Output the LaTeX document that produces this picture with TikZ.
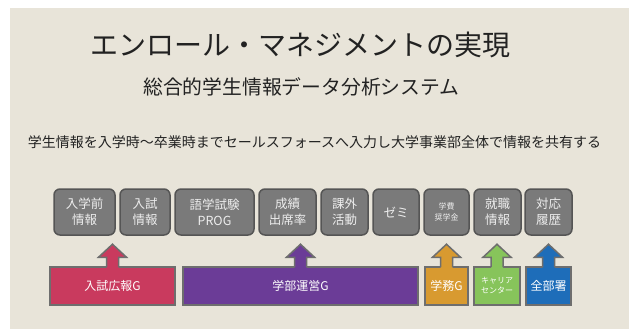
\documentclass[tikz,border=0pt]{standalone}
\usepackage{fontspec}
\setmainfont{Noto Sans CJK JP}
\definecolor{bg}{HTML}{E8E4D9}
\definecolor{boxfill}{HTML}{7A7A7A}
\definecolor{boxline}{HTML}{555555}
\definecolor{boxtext}{HTML}{EDEDED}
\definecolor{barline}{HTML}{6E6E6E}
\definecolor{cred}{HTML}{C93A5E}
\definecolor{cpurple}{HTML}{6B3C97}
\definecolor{corange}{HTML}{D89A30}
\definecolor{cgreen}{HTML}{87C45B}
\definecolor{cblue}{HTML}{1E6DB9}
\definecolor{ink}{HTML}{222222}
\tikzset{
  infobox/.style={draw=boxline, line width=1.5pt, fill=boxfill, rounded corners=6pt,
    minimum height=46pt, inner sep=0pt, align=center, text=boxtext,
    font=\fontsize{12.5}{16}\selectfont},
  smallbox/.style={infobox, font=\fontsize{8}{11}\selectfont},
  bar/.style={draw=barline, line width=1.5pt, minimum height=38pt, inner sep=0pt,
    align=center, text=white, font=\fontsize{12}{14}\selectfont},
  smallbar/.style={bar, font=\fontsize{8}{10}\selectfont},
  uparrow/.style={draw=barline, line width=1.5pt, line join=miter},
}
\newcommand{\UpArrow}[2]{%
  \fill[#2] (#1.north) ++(-6,2) -- ++(0,-11) -- ++(-8,0) -- ++(14,-13) -- ++(14,13) -- ++(-8,0) -- ++(0,11) -- cycle;
  \draw[uparrow] (#1.north) ++(-6,0.75) -- ++(0,-9.75) -- ++(-8,0) -- ++(14,-13) -- ++(14,13) -- ++(-8,0) -- ++(0,9.75);
}
\begin{document}
\begin{tikzpicture}[x=1pt,y=-1pt]
\useasboundingbox (0,0) rectangle (629,329);
\fill[white] (0,0) rectangle (629,329);
\fill[bg] (10,8) rectangle (629,329);

\node[text=ink, font=\fontsize{28}{32}\selectfont] (title) at (300,45) {エンロール・マネジメントの実現};
\node[text=ink, font=\fontsize{19.8}{24}\selectfont] (sub) at (301.5,87) {総合的学生情報データ分析システム};
\node[text=ink, font=\fontsize{14}{16}\selectfont] (lead) at (314.5,142) {学生情報を入学時～卒業時までセールスフォースへ入力し大学事業部全体で情報を共有する};

\node[infobox, minimum width=61pt] (b1) at (84.5,212) {入学前\\情報};
\node[infobox, minimum width=50pt] (b2) at (145,212) {入試\\情報};
\node[infobox, minimum width=79pt] (b3) at (214.5,212) {語学試験\\PROG};
\node[infobox, minimum width=57pt] (b4) at (287.5,212) {成績\\出席率};
\node[infobox, minimum width=47pt] (b5) at (344.5,212) {課外\\活動};
\node[infobox, minimum width=46pt] (b6) at (396,212) {ゼミ};
\node[smallbox, minimum width=45pt] (b7) at (446.5,212) {学費\\奨学金};
\node[infobox, minimum width=47pt] (b8) at (497.5,212) {就職\\情報};
\node[infobox, minimum width=47pt] (b9) at (548.5,212) {対応\\履歴};

\node[bar, fill=cred, minimum width=125pt] (g1) at (112.5,286) {入試広報G};
\node[bar, fill=cpurple, minimum width=235pt] (g2) at (300.5,286) {学部運営G};
\node[bar, fill=corange, minimum width=43pt] (g3) at (446.5,286) {学務G};
\node[smallbar, fill=cgreen, minimum width=46pt] (g4) at (497,286) {キャリア\\センター};
\node[bar, fill=cblue, minimum width=45pt] (g5) at (548.5,286) {全部署};

\UpArrow{g1}{cred}
\UpArrow{g2}{cpurple}
\UpArrow{g3}{corange}
\UpArrow{g4}{cgreen}
\UpArrow{g5}{cblue}
\end{tikzpicture}
\end{document}
